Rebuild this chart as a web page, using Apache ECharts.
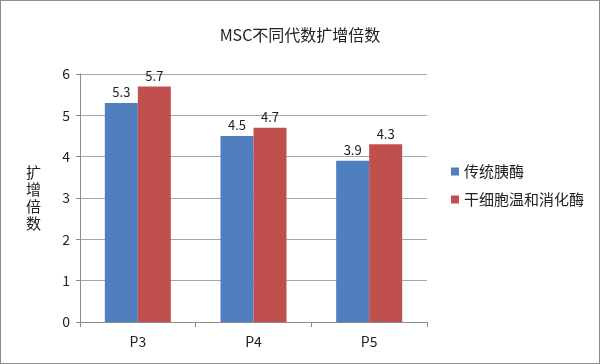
<!DOCTYPE html>
<html><head><meta charset="utf-8">
<script src="https://cdn.jsdelivr.net/npm/echarts@6/dist/echarts.min.js"></script>
<style>html,body{margin:0;padding:0;background:#fff}#c{width:600px;height:364px;box-sizing:border-box;border:1px solid #8c8c8c}</style>
</head><body><div id="c"></div>
<script>
const categories = ['P3', 'P4', 'P5'];
const seriesNames = ['传统胰酶', '干细胞温和消化酶'];
const tradValues = [5.3, 4.5, 3.9];
const gentleValues = [5.7, 4.7, 4.3];
const yTicks = [0, 1, 2, 3, 4, 5, 6];
const font = '"Noto Sans CJK SC", "Noto Sans", sans-serif';
const chart = echarts.init(document.getElementById('c'));
chart.setOption({
  animation: false,
  textStyle: { fontFamily: font },
  title: { text: 'MSC不同代数扩增倍数', left: 'center', top: 21,
    textStyle: { fontSize: 16, fontWeight: 'normal', color: '#222', fontFamily: font } },
  grid: { left: 79, right: 172, top: 73, bottom: 41, containLabel: false },
  legend: { orient: 'vertical', left: 445, top: 158, itemWidth: 8, itemHeight: 8, itemGap: 13,
    icon: 'rect', textStyle: { fontSize: 15, color: '#222', fontFamily: font }, data: seriesNames },
  xAxis: { type: 'category', data: categories,
    axisLine: { lineStyle: { color: '#8c8c8c' } },
    axisTick: { show: true, length: 5, lineStyle: { color: '#8c8c8c' } },
    axisLabel: { fontSize: 14, color: '#222', margin: 13, fontFamily: font } },
  yAxis: { type: 'value', min: yTicks[0], max: yTicks[yTicks.length - 1], interval: 1,
    name: '扩\n增\n倍\n数', nameLocation: 'middle', nameRotate: 0, nameGap: 39,
    nameTextStyle: { fontSize: 15, color: '#222', lineHeight: 17, fontFamily: font },
    axisLine: { show: true, lineStyle: { color: '#8c8c8c' } },
    axisTick: { show: true, length: 4, inside: false, lineStyle: { color: '#8c8c8c' } },
    splitLine: { lineStyle: { color: '#a6a6a6' } },
    axisLabel: { fontSize: 14, color: '#222', margin: 10, fontFamily: font } },
  series: [
    { name: seriesNames[0], type: 'bar', data: tradValues, barWidth: 33, barGap: '0%',
      itemStyle: { color: '#4f7fbf' },
      label: { show: true, position: 'top', fontSize: 13, color: '#222', distance: 4, fontFamily: font } },
    { name: seriesNames[1], type: 'bar', data: gentleValues, barWidth: 33,
      itemStyle: { color: '#c0504d' },
      label: { show: true, position: 'top', fontSize: 13, color: '#222', distance: 4, fontFamily: font } }
  ]
});
</script></body></html>
